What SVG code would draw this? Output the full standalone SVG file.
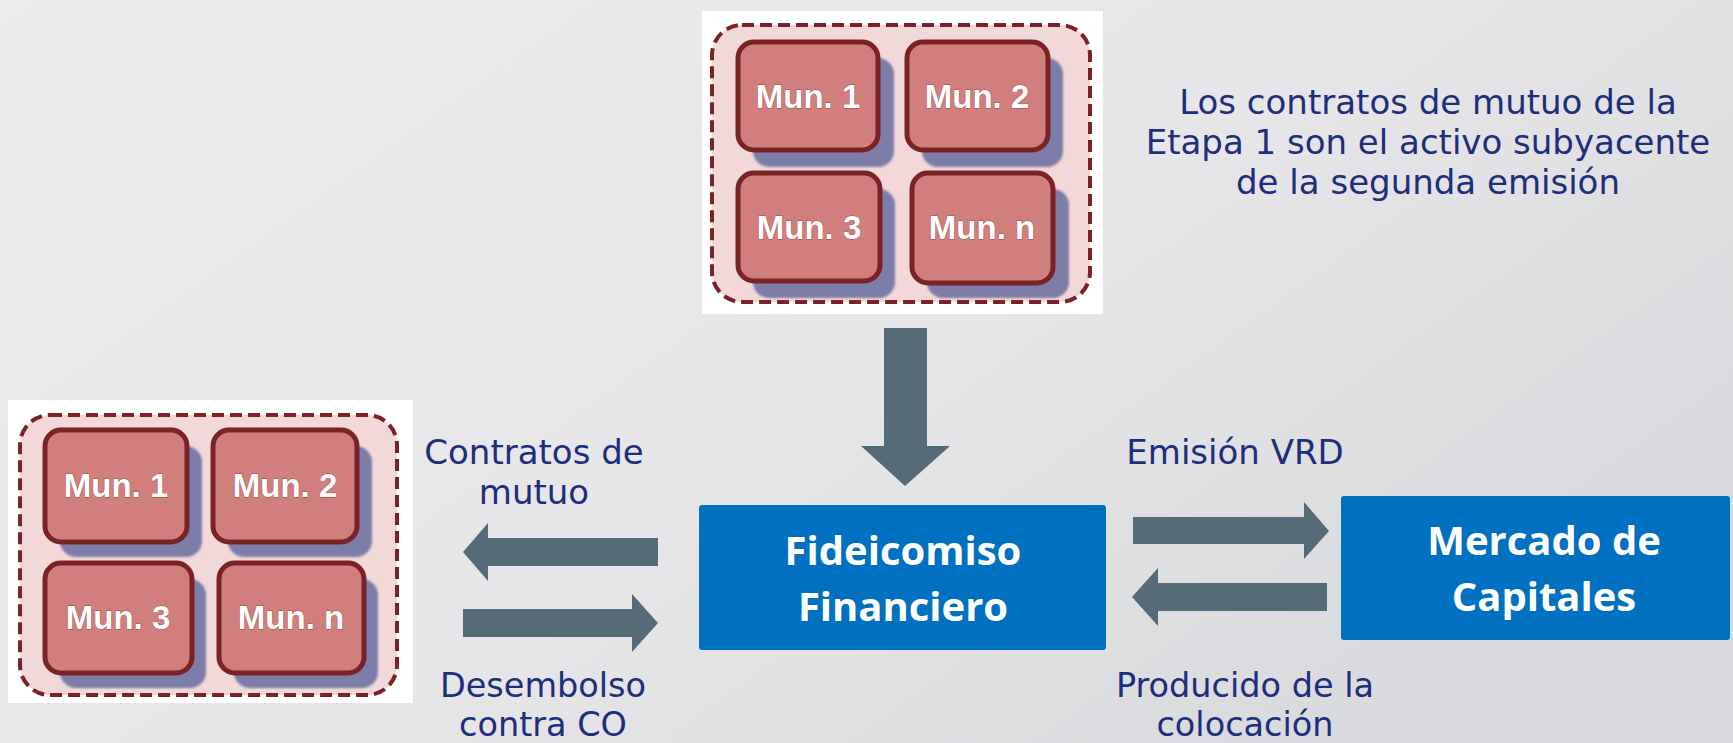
<svg xmlns="http://www.w3.org/2000/svg" width="1733" height="743" viewBox="0 0 1733 743">
<defs>
<linearGradient id="bg" x1="0" y1="0" x2="1" y2="0.6">
<stop offset="0" stop-color="#ECECED"/>
<stop offset="0.6" stop-color="#E6E6E8"/>
<stop offset="1" stop-color="#D9DADD"/>
</linearGradient>
<filter id="blur" x="-20%" y="-20%" width="140%" height="140%">
<feGaussianBlur stdDeviation="1.2"/>
</filter>
<style>
.img{fill:#FFFFFF}
.cluster{fill:#F2D8D8;stroke:#7B2226;stroke-width:4;stroke-dasharray:12 6}
.shadow{fill:#7B7DA8;filter:url(#blur)}
.mun{fill:#D17F7D;stroke:#7B2226;stroke-width:5}
.munt{font-family:"Liberation Sans",Arial,sans-serif;font-weight:bold;font-size:33px;fill:#FFFFFF;text-anchor:middle;stroke:#9A4B4B;stroke-width:0.8;paint-order:stroke}
.blue{fill:#0070C0}
.bt{font-family:"Open Sans","Liberation Sans",sans-serif;font-weight:bold;font-size:40px;fill:#FFFFFF;text-anchor:middle}
.lbl{font-family:"DejaVu Sans",Verdana,sans-serif;font-size:34px;fill:#1E2D7D;text-anchor:middle}
.low{font-size:33.5px}
.arr{fill:#556B78}
</style>
</defs>
<rect x="0" y="0" width="1733" height="743" fill="url(#bg)"/>

<g id="municipios-etapa1">
<rect class="img" x="702" y="11" width="401" height="303"/>
<rect class="cluster" x="712" y="25" width="378" height="277" rx="30"/>
<g id="top-mun1">
<rect class="shadow" x="753" y="58" width="141" height="109" rx="16"/>
<rect class="mun" x="738" y="42" width="140" height="108" rx="16"/>
<text class="munt" x="808" y="108">Mun. 1</text>
</g>
<g id="top-mun2">
<rect class="shadow" x="922" y="58" width="141" height="109" rx="16"/>
<rect class="mun" x="907" y="42" width="141" height="108" rx="16"/>
<text class="munt" x="977" y="108">Mun. 2</text>
</g>
<g id="top-mun3">
<rect class="shadow" x="753" y="189" width="142" height="109" rx="16"/>
<rect class="mun" x="738" y="173" width="142" height="108" rx="16"/>
<text class="munt" x="809" y="239">Mun. 3</text>
</g>
<g id="top-munn">
<rect class="shadow" x="927" y="189" width="142" height="109" rx="16"/>
<rect class="mun" x="912" y="173" width="141" height="110" rx="16"/>
<text class="munt" x="982" y="239">Mun. n</text>
</g>
</g>

<g id="municipios">
<rect class="img" x="8" y="400" width="405" height="303"/>
<rect class="cluster" x="20" y="415" width="377" height="280" rx="30"/>
<g id="mun1">
<rect class="shadow" x="60" y="446" width="142" height="111" rx="16"/>
<rect class="mun" x="45" y="430" width="142" height="112" rx="16"/>
<text class="munt" x="116" y="497">Mun. 1</text>
</g>
<g id="mun2">
<rect class="shadow" x="228" y="446" width="144" height="111" rx="16"/>
<rect class="mun" x="213" y="430" width="144" height="112" rx="16"/>
<text class="munt" x="285" y="497">Mun. 2</text>
</g>
<g id="mun3">
<rect class="shadow" x="60" y="579" width="146" height="109" rx="16"/>
<rect class="mun" x="45" y="563" width="147" height="110" rx="16"/>
<text class="munt" x="118" y="629">Mun. 3</text>
</g>
<g id="munn">
<rect class="shadow" x="234" y="579" width="144" height="109" rx="16"/>
<rect class="mun" x="219" y="563" width="145" height="110" rx="16"/>
<text class="munt" x="291" y="629">Mun. n</text>
</g>
</g>

<g id="fideicomiso">
<rect class="blue" x="699" y="505" width="407" height="145" rx="3"/>
<text class="bt" x="903" y="565">Fideicomiso</text>
<text class="bt" x="903" y="621">Financiero</text>
</g>

<g id="mercado">
<rect class="blue" x="1341" y="496" width="389" height="144" rx="3"/>
<text class="bt" x="1544" y="555">Mercado de</text>
<text class="bt" x="1544" y="611">Capitales</text>
</g>

<g id="connectors">
<polygon class="arr" points="884,328 927,328 927,446 950,446 905,486 861,446 884,446"/>
<polygon class="arr" points="463,552 488,523 488,538 658,538 658,566 488,566 488,581"/>
<polygon class="arr" points="463,609 632,609 632,594 658,623 632,652 632,637 463,637"/>
<polygon class="arr" points="1133,517 1304,517 1304,502 1329,531 1304,559 1304,544 1133,544"/>
<polygon class="arr" points="1132,597 1158,568 1158,583 1327,583 1327,611 1158,611 1158,626"/>
</g>

<g id="labels">
<text class="lbl" x="1428" y="114">Los contratos de mutuo de la</text>
<text class="lbl" x="1428" y="154">Etapa 1 son el activo subyacente</text>
<text class="lbl" x="1428" y="194">de la segunda emisión</text>
<text class="lbl" x="534" y="464">Contratos de</text>
<text class="lbl" x="534" y="504">mutuo</text>
<text class="lbl low" x="543" y="697">Desembolso</text>
<text class="lbl low" x="543" y="736">contra CO</text>
<text class="lbl" x="1235" y="464">Emisión VRD</text>
<text class="lbl low" x="1245" y="697">Producido de la</text>
<text class="lbl low" x="1245" y="736">colocación</text>
</g>
</svg>
